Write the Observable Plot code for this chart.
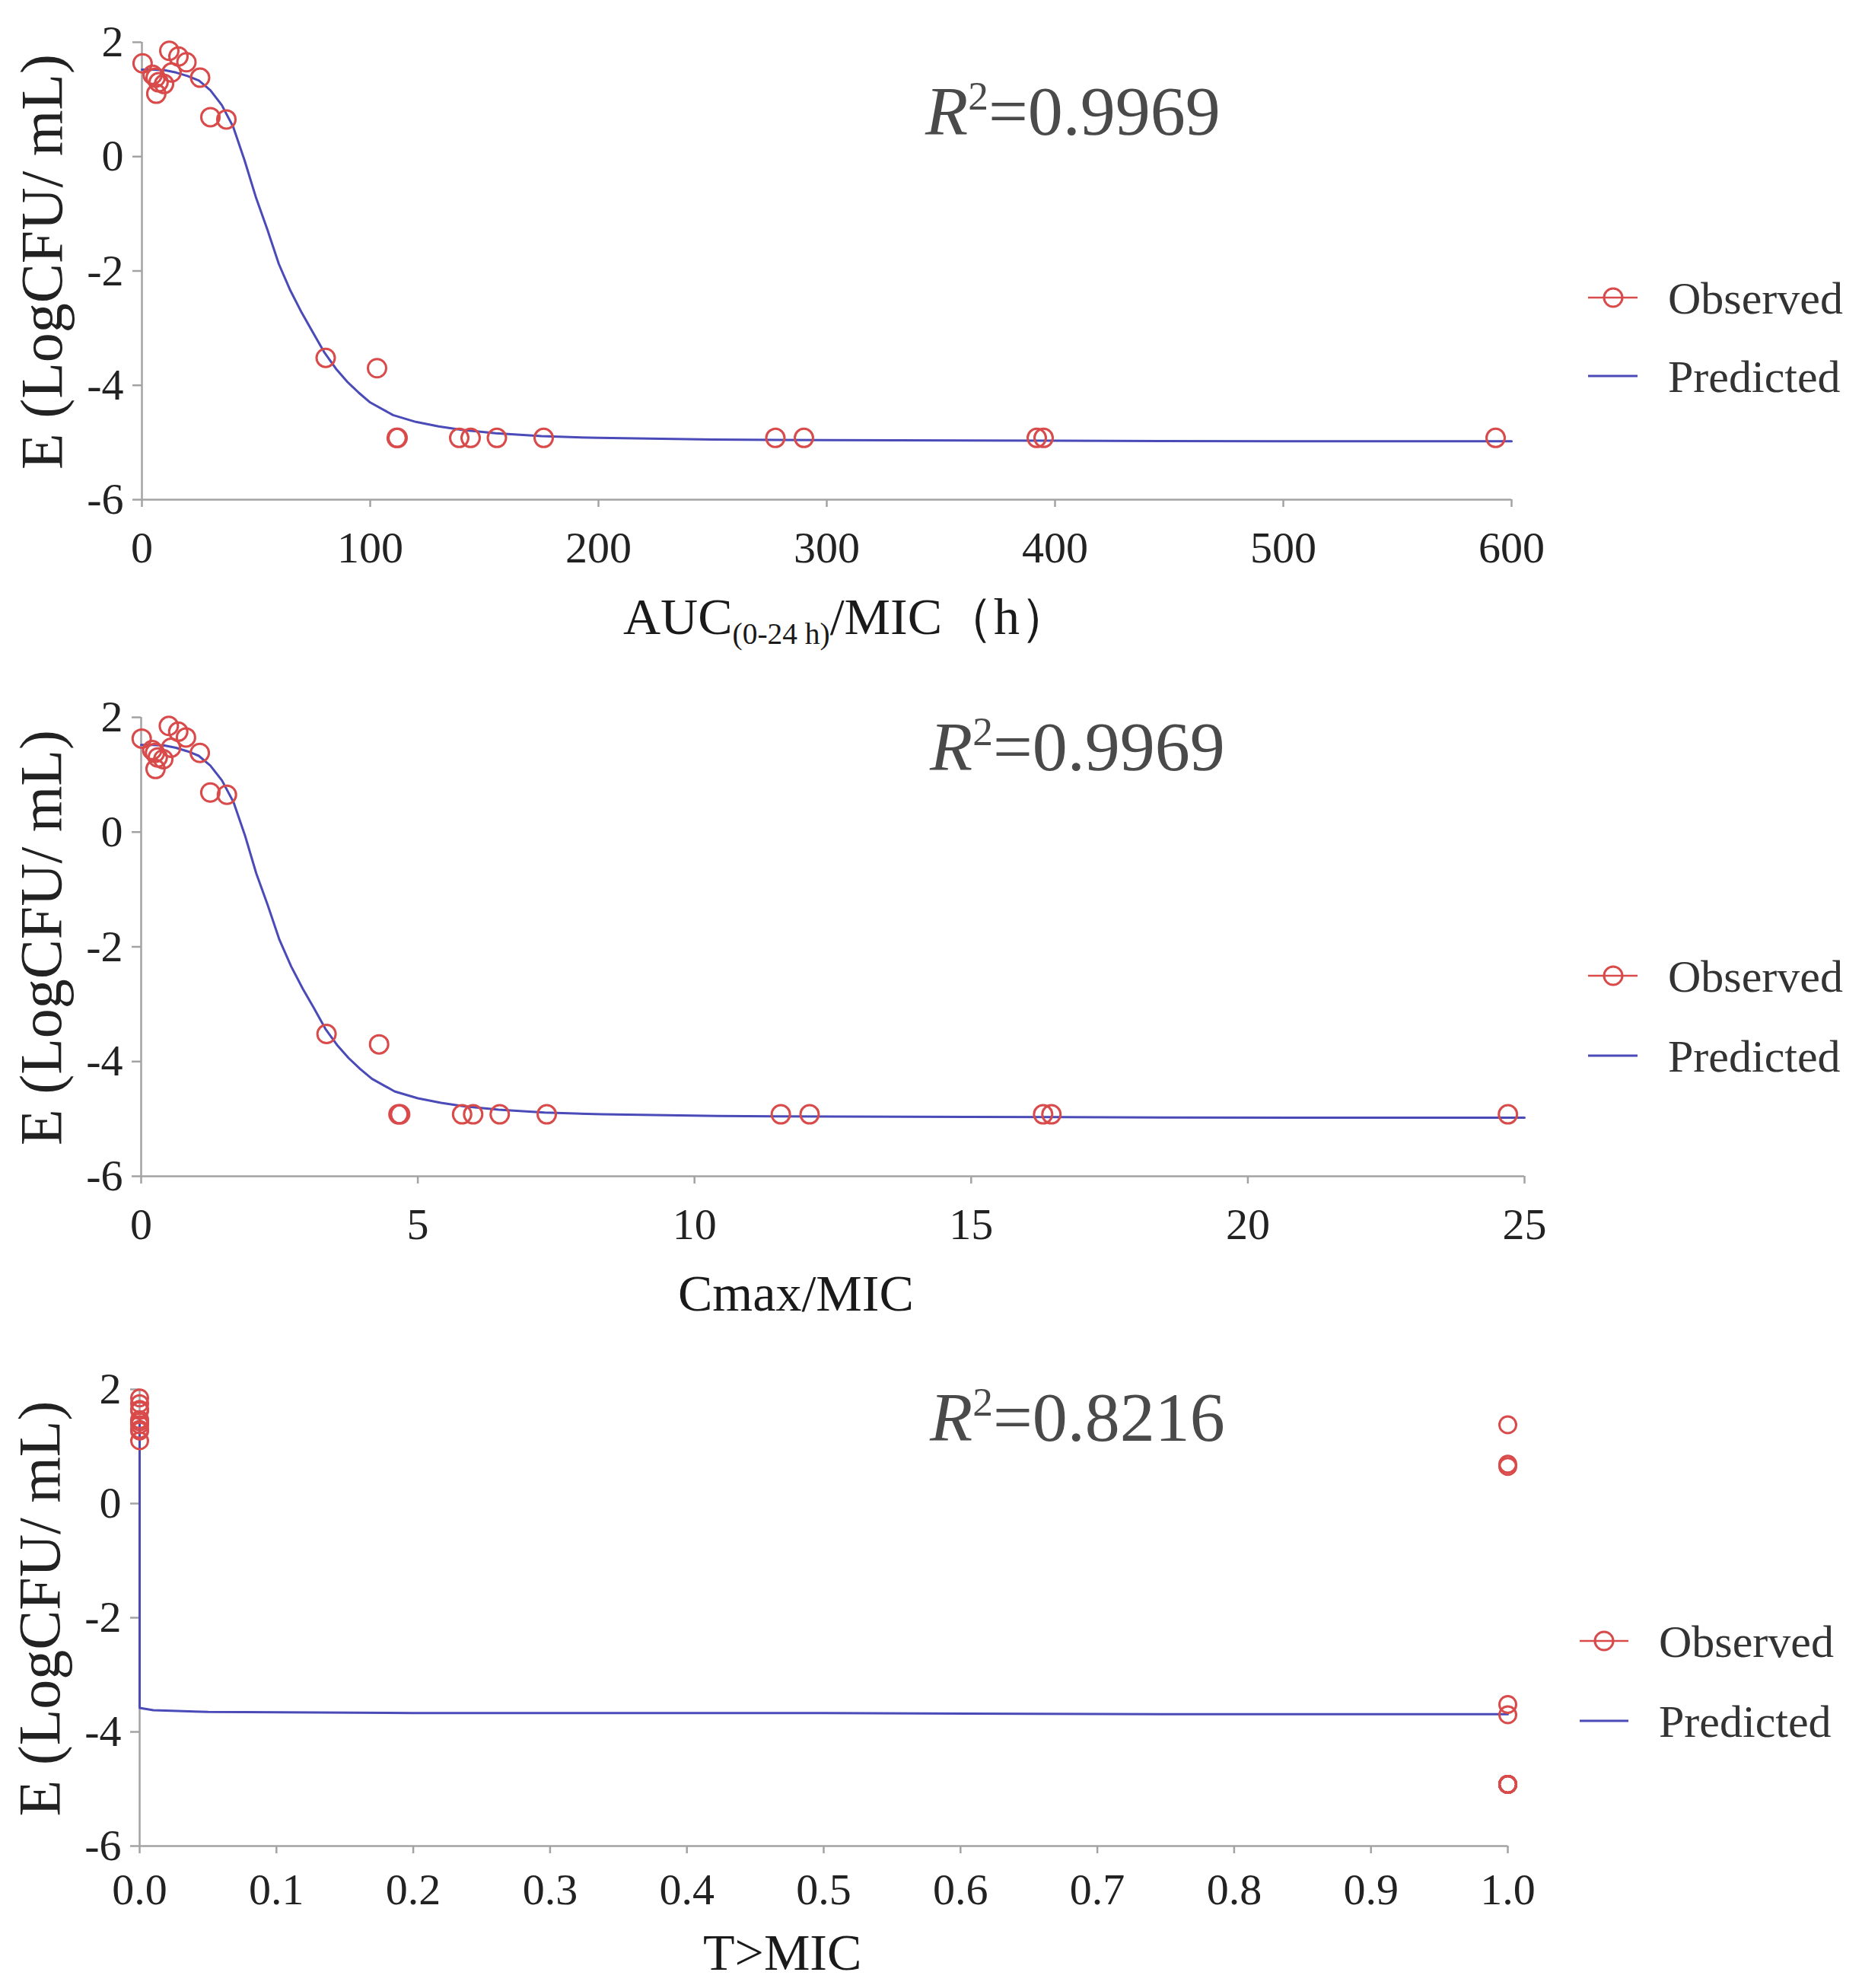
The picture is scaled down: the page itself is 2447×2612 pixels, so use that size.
<!DOCTYPE html>
<html><head><meta charset="utf-8">
<script src="https://cdn.jsdelivr.net/npm/d3@7"></script>
<script src="https://cdn.jsdelivr.net/npm/@observablehq/plot@0.6"></script>
<style>
html,body{margin:0;padding:0;background:#fff;}
#root{position:relative;width:2447px;height:2612px;overflow:hidden;font-family:"Liberation Serif",serif;background:#fff;}
.panel{position:absolute;left:0;}
.ov{position:absolute;white-space:nowrap;line-height:1;color:#222;font-family:"Liberation Serif",serif;}
.r2{font-size:92px;color:#4a4a4a;}
.r2 sup{font-size:0.58em;line-height:0;vertical-align:baseline;position:relative;top:-0.62em;}
.xt{font-size:68px;color:#1a1a1a;}
.xt sub{font-size:0.58em;line-height:0;vertical-align:baseline;position:relative;top:0.32em;}
.lg{font-size:60px;color:#333;}
</style></head><body><div id="root"></div>
<script>
// ---------- data ----------
const eObs = [1.63, 1.43, 1.38, 1.10, 1.30, 1.27, 1.85, 1.47, 1.75, 1.65, 1.38, 0.69, 0.65, -3.52, -3.70, -4.92, -4.92, -4.92, -4.92, -4.92, -4.92, -4.92, -4.92, -4.92, -4.92, -4.92];
const aucObs = [0.3, 4.7, 6, 6.3, 7.3, 9.7, 12, 13, 16, 19.5, 25.5, 30, 37, 80.5, 103, 111.6, 112, 139, 144, 155.5, 176, 277.5, 290, 392, 395, 593];
const cmaxObs = [0.01, 0.2, 0.25, 0.26, 0.3, 0.4, 0.5, 0.54, 0.67, 0.81, 1.06, 1.25, 1.55, 3.35, 4.3, 4.65, 4.68, 5.8, 6.0, 6.48, 7.33, 11.56, 12.08, 16.3, 16.45, 24.7];
const tmicObs = [0, 0, 0, 0, 0, 0, 0, 0, 0, 0, 1, 1, 1, 1, 1, 1, 1, 1, 1, 1, 1, 1, 1, 1, 1, 1];

const aucPred = [0, 5, 10, 15, 20, 25, 30, 35, 40, 45, 50, 55, 60, 65, 70, 75, 80, 85, 90, 95, 100, 110, 120, 130, 140, 155, 175, 200, 250, 300, 400, 500, 600];
const ePredAuc = [1.52, 1.52, 1.51, 1.47, 1.41, 1.33, 1.16, 0.90, 0.52, -0.07, -0.72, -1.28, -1.88, -2.34, -2.73, -3.08, -3.43, -3.71, -3.94, -4.13, -4.30, -4.52, -4.64, -4.72, -4.78, -4.84, -4.89, -4.92, -4.95, -4.96, -4.97, -4.98, -4.98];
const cmaxPred = [0, 0.21, 0.42, 0.63, 0.83, 1.04, 1.25, 1.46, 1.67, 1.88, 2.08, 2.29, 2.5, 2.71, 2.92, 3.13, 3.33, 3.54, 3.75, 3.96, 4.17, 4.58, 5.0, 5.42, 5.83, 6.46, 7.29, 8.33, 10.42, 12.5, 16.67, 20.83, 25];
const ePredCmax = [1.52, 1.52, 1.51, 1.47, 1.41, 1.33, 1.16, 0.90, 0.52, -0.07, -0.72, -1.28, -1.88, -2.34, -2.73, -3.08, -3.43, -3.71, -3.94, -4.13, -4.30, -4.52, -4.64, -4.72, -4.78, -4.84, -4.89, -4.92, -4.95, -4.96, -4.97, -4.98, -4.98];
const tmicPred = [0, 0, 0.01, 0.05, 0.2, 0.5, 0.75, 1.0];
const ePredTmic = [1.5, -3.58, -3.62, -3.65, -3.67, -3.67, -3.69, -3.69];

const yTicks = [-6, -4, -2, 0, 2];
const aucTicks = [0, 100, 200, 300, 400, 500, 600];
const cmaxTicks = [0, 5, 10, 15, 20, 25];
const tmicTicks = [0, 0.1, 0.2, 0.3, 0.4, 0.5, 0.6, 0.7, 0.8, 0.9, 1.0];
const r2Labels = ["0.9969", "0.9969", "0.8216"];
const seriesNames = ["Observed", "Predicted"];
const yLabel = "E (LogCFU/ mL)";

// ---------- style ----------
const FONT = '"Liberation Serif", serif';
const RED = "#d94a4a";
const BLUE = "#4a4ab8";
const AX = "#a3a3a3";

function panel(o) {
  const obs = o.xs.map((x, i) => ({x, y: eObs[i]}));
  const pred = o.pxs.map((x, i) => ({x, y: o.pys[i]}));
  return Plot.plot({
    width: 2447, height: o.height,
    marginTop: 55, marginLeft: o.marginLeft, marginRight: o.marginRight, marginBottom: o.marginBottom,
    style: {fontFamily: FONT, background: "transparent", color: "#222", overflow: "visible"},
    x: {domain: o.xDomain},
    y: {domain: [-6, 2]},
    marks: [
      Plot.ruleY([-6], {stroke: AX, strokeWidth: 2.5}),
      Plot.ruleX([o.xDomain[0]], {stroke: AX, strokeWidth: 2.5}),
      Plot.axisX({ticks: o.xTicks, tickFormat: o.tickFormat, tickSize: 10, tickPadding: o.tickPadX, stroke: AX, strokeWidth: 2.5, fill: "#222", fontSize: 58, fontFamily: FONT, label: null}),
      Plot.axisY({ticks: yTicks, tickFormat: d => String(d), tickSize: 12, tickPadding: 12, stroke: AX, strokeWidth: 2.5, fill: "#222", fontSize: 58, fontFamily: FONT, label: null}),
      Plot.text([yLabel], {text: d => d, frameAnchor: "left", textAnchor: "middle", rotate: -90, dx: -161, dy: -12, lineAnchor: "top", fontSize: 78, fontFamily: FONT, fill: "#222"}),
      Plot.line(pred, {x: "x", y: "y", stroke: BLUE, strokeWidth: 3}),
      Plot.dot(obs, {x: "x", y: "y", r: o.r, stroke: RED, strokeWidth: 3, fill: "none"})
    ]
  });
}

const root = document.getElementById("root");
const panels = [
  {top: 0, height: 887, marginLeft: 186, marginRight: 461, marginBottom: 231, xs: aucObs, pxs: aucPred, pys: ePredAuc, xDomain: [0, 600], xTicks: aucTicks, tickFormat: d3.format("d"), tickPadX: 31, r: 12},
  {top: 887, height: 883, marginLeft: 185, marginRight: 444, marginBottom: 225, xs: cmaxObs, pxs: cmaxPred, pys: ePredCmax, xDomain: [0, 25], xTicks: cmaxTicks, tickFormat: d3.format("d"), tickPadX: 31, r: 12},
  {top: 1770, height: 842, marginLeft: 183, marginRight: 466, marginBottom: 187, xs: tmicObs, pxs: tmicPred, pys: ePredTmic, xDomain: [0, 1], xTicks: tmicTicks, tickFormat: d3.format(".1f"), tickPadX: 25, r: 11}
];
panels.forEach(p => {
  const wrap = document.createElement("div");
  wrap.className = "panel";
  wrap.style.top = p.top + "px";
  wrap.appendChild(panel(p));
  root.appendChild(wrap);
});

// ---------- annotations ----------
function addDiv(cls, html, left, top) {
  const d = document.createElement("div");
  d.className = "ov " + cls;
  d.innerHTML = html;
  d.style.left = left + "px";
  d.style.top = top + "px";
  root.appendChild(d);
  return d;
}
// R^2 texts (baseline -> top: baseline - 0.8375*fontSize)
const r2Pos = [[1216, 177], [1222, 1012], [1222, 1893]];
r2Pos.forEach(([x, b], i) => addDiv("r2", '<i>R</i><sup>2</sup>=' + r2Labels[i], x, b - 0.8375 * 92));

// x titles
const xTitles = ['AUC<sub>(0-24 h)</sub>/MIC（h）', 'Cmax/MIC', 'T&gt;MIC'];
const xtPos = [[819, 833], [891, 1722], [924, 2588]];
xtPos.forEach(([x, b], i) => addDiv("xt", xTitles[i], x, b - 0.8375 * 68));

// legends
const legendRows = [
  {y1: 391, y2: 494, lx1: 2087, lx2: 2152, cx: 2120, tx: 2192},
  {y1: 1282, y2: 1387, lx1: 2087, lx2: 2152, cx: 2120, tx: 2192},
  {y1: 2156, y2: 2261, lx1: 2076, lx2: 2140, cx: 2108, tx: 2180}
];
const ns = "http://www.w3.org/2000/svg";
const ov = document.createElementNS(ns, "svg");
ov.setAttribute("width", 2447); ov.setAttribute("height", 2612);
ov.style.position = "absolute"; ov.style.left = "0"; ov.style.top = "0"; ov.style.pointerEvents = "none";
root.appendChild(ov);
function el(tag, attrs) { const e = document.createElementNS(ns, tag); for (const k in attrs) e.setAttribute(k, attrs[k]); ov.appendChild(e); return e; }
legendRows.forEach(L => {
  el("line", {x1: L.lx1, x2: L.lx2, y1: L.y1, y2: L.y1, stroke: RED, "stroke-width": 2.5});
  el("circle", {cx: L.cx, cy: L.y1, r: 12, fill: "none", stroke: RED, "stroke-width": 3});
  el("line", {x1: L.lx1, x2: L.lx2, y1: L.y2, y2: L.y2, stroke: BLUE, "stroke-width": 3});
  addDiv("lg", seriesNames[0], L.tx, L.y1 + 21 - 0.8375 * 60);
  addDiv("lg", seriesNames[1], L.tx, L.y2 + 21 - 0.8375 * 60);
});
</script></body></html>
